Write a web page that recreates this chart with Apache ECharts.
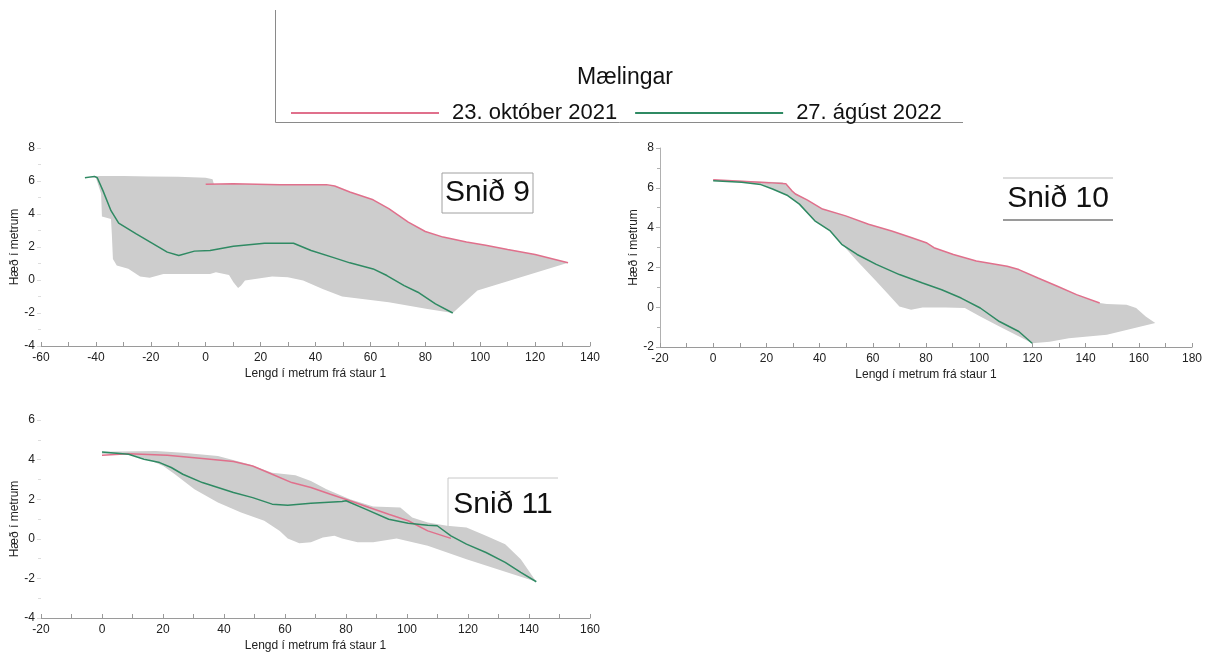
<!DOCTYPE html>
<html>
<head>
<meta charset="utf-8">
<title>Snið 9, 10 og 11</title>
<script src="https://cdn.jsdelivr.net/npm/echarts@6/dist/echarts.min.js"></script>
<style>
html, body { margin: 0; padding: 0; background: #fff; }
#chart { width: 1227px; height: 658px; }
</style>
</head>
<body>
<div id="chart"></div>
<script>
// Mælingar - [lengd frá staur 1 (m), hæð (m)]
const names = ['23. október 2021', '27. ágúst 2022'];

// Snið 9
const okt9 = [[0, 5.8], [10, 5.83], [27, 5.78], [44, 5.78], [47, 5.7], [52.5, 5.33], [61, 4.86], [66.7, 4.32], [73.8, 3.51], [80, 2.94], [86.5, 2.6], [95, 2.3], [102, 2.1], [110, 1.85], [120, 1.55], [132, 1.05]];
const agu9 = [[-44, 6.2], [-40.5, 6.28], [-39.5, 6.2], [-37.4, 5.4], [-34.5, 4.2], [-31.7, 3.45], [-25.3, 2.8], [-14, 1.69], [-9.8, 1.48], [-4.1, 1.75], [1.6, 1.79], [10.1, 2.05], [21.4, 2.23], [32, 2.23], [38.4, 1.79], [46.9, 1.34], [52.5, 1.04], [61, 0.67], [66, 0.27], [72.3, -0.34], [77.3, -0.74], [83.7, -1.45], [90, -2.0]];
const efri9 = [[-44, 6.2], [-38.8, 6.3], [-30, 6.3], [-20, 6.28], [-10, 6.26], [0, 6.2], [2.5, 6.1], [3, 5.8], [10, 5.83], [27, 5.78], [44, 5.78], [47, 5.7], [52.5, 5.33], [61, 4.86], [66.7, 4.32], [73.8, 3.51], [80, 2.94], [86.5, 2.6], [95, 2.3], [102, 2.1], [110, 1.85], [120, 1.55], [132, 1.05]];
const nedri9 = [[132, 1.05], [99, -0.64], [90, -2.0], [80.8, -1.75], [66.7, -1.35], [49.7, -1.0], [42.6, -0.54], [35.5, -0.03], [29.9, 0.17], [24.2, 0.21], [18.6, 0.07], [14.3, -0.03], [12.9, -0.34], [11.8, -0.48], [10.1, -0.13], [8.5, 0.3], [3.7, 0.47], [1.6, 0.37], [-6.9, 0.37], [-15.4, 0.37], [-20.4, 0.13], [-23.9, 0.21], [-28.2, 0.68], [-32.4, 0.88], [-33.8, 1.28], [-34.2, 2.8], [-34.5, 3.7], [-37.8, 3.85], [-38.1, 5.23], [-40, 6.2]];

// Snið 10
const okt10 = [[0, 6.4], [10.7, 6.33], [20.8, 6.26], [27.3, 6.2], [29.5, 5.86], [30.9, 5.69], [35.3, 5.39], [41.1, 4.93], [49.8, 4.59], [58.4, 4.17], [67.1, 3.83], [74.4, 3.5], [80.1, 3.24], [83, 2.99], [90.3, 2.65], [98.9, 2.32], [110.5, 2.06], [114.9, 1.89], [122.1, 1.47], [129.4, 1.05], [136.6, 0.63], [145.3, 0.21]];
const agu10 = [[0, 6.36], [10.7, 6.28], [17.9, 6.16], [22.3, 5.94], [28, 5.61], [32.4, 5.18], [38.2, 4.34], [44, 3.83], [48.3, 3.16], [54.1, 2.65], [61.3, 2.15], [70, 1.64], [78.7, 1.22], [85.9, 0.88], [93.2, 0.46], [100.4, -0.04], [107.6, -0.72], [114.9, -1.22], [119.9, -1.81]];
const efri10 = [[0, 6.4], [20, 6.3], [26, 6.28], [28, 6.1], [30, 5.8], [35.3, 5.39], [41.1, 4.93], [49.8, 4.59], [58.4, 4.17], [67.1, 3.83], [74.4, 3.5], [80.1, 3.24], [83, 2.99], [90.3, 2.65], [98.9, 2.32], [110.5, 2.06], [114.9, 1.89], [122.1, 1.47], [129.4, 1.05], [136.6, 0.63], [145.3, 0.21], [148, 0.16], [155.4, 0.12], [159, -0.04], [162.6, -0.47], [166.2, -0.8]];
const nedri10 = [[166.2, -0.8], [148, -1.39], [133.7, -1.56], [126.5, -1.73], [119.9, -1.81], [116.3, -1.56], [107.6, -0.97], [100.4, -0.47], [94.6, -0.04], [87.4, -0.01], [78.7, -0.01], [74.4, -0.13], [70, 0.04], [67.1, 0.46], [61.3, 1.31], [54.1, 2.32], [44, 3.83], [38.2, 4.34], [32.4, 5.18], [28, 5.61], [22.3, 5.94], [17.9, 6.16], [10.7, 6.28], [0, 6.36]];

// Snið 11
const okt11 = [[0, 4.22], [8.7, 4.3], [21.4, 4.22], [32.9, 4.05], [43.1, 3.9], [49.4, 3.68], [55.8, 3.26], [62.2, 2.84], [68.5, 2.59], [74.9, 2.25], [81.3, 1.92], [87.6, 1.58], [94, 1.24], [100.4, 0.91], [106.8, 0.4], [114.4, 0.02]];
const agu11 = [[0, 4.39], [8.7, 4.27], [13.8, 4.02], [18.9, 3.85], [22.7, 3.6], [26.5, 3.26], [32.9, 2.84], [38, 2.59], [43.1, 2.34], [49.4, 2.08], [55.8, 1.75], [60.9, 1.7], [68.5, 1.8], [78.7, 1.88], [80, 1.92], [86.4, 1.5], [94, 0.99], [100.4, 0.79], [106.8, 0.69], [109.9, 0.66], [114.4, 0.15], [119.5, -0.27], [125.9, -0.69], [132.2, -1.19], [137.3, -1.7], [142.4, -2.17]];
const efri11 = [[0, 4.4], [17.6, 4.44], [26.5, 4.35], [38, 4.18], [48.2, 3.76], [55.8, 3.34], [63.4, 3.21], [68.5, 2.92], [73.6, 2.5], [81.3, 2.0], [88.9, 1.63], [97.8, 1.58], [101.7, 1.08], [106.8, 0.82], [113.1, 0.66], [119.5, 0.57], [125.9, 0.15], [132.2, -0.27], [137.3, -1.03], [142.4, -2.17]];
const nedri11 = [[142.4, -2.17], [119.5, -1.03], [106.8, -0.35], [96.6, 0.02], [88.9, -0.18], [83.8, -0.18], [78.7, 0.02], [76.2, 0.15], [72.4, 0.07], [68.5, -0.18], [64.7, -0.22], [60.9, 0.02], [58.3, 0.4], [53.2, 0.91], [45.6, 1.33], [38, 1.83], [30.3, 2.5], [23.9, 3.26], [20.1, 3.68], [15, 4.02], [8.7, 4.27], [0, 4.3]];

const PINK = '#e0708c';
const GREEN = '#2f8a63';
const GRAY = '#cdcdcd';
const FONT = 'Liberation Sans, Arial, sans-serif';

const myChart = echarts.init(document.getElementById('chart'));

function xAxis(gridIndex, min, max) {
  return {
    type: 'value', gridIndex: gridIndex, min: min, max: max, interval: 20,
    name: 'Lengd í metrum frá staur 1', nameLocation: 'middle', nameGap: 22,
    nameTextStyle: { color: '#222', fontSize: 12, fontFamily: FONT },
    splitLine: { show: false },
    axisLine: { onZero: false, lineStyle: { color: '#9a9a9a', width: 1 } },
    axisTick: { inside: true, length: 4, lineStyle: { color: '#9a9a9a' } },
    minorTick: { show: true, splitNumber: 2, length: 4, lineStyle: { color: '#9a9a9a' } },
    axisLabel: { color: '#222', fontSize: 12, fontFamily: FONT, margin: 6 }
  };
}

function yAxis(gridIndex, min, max, showLine, gap) {
  return {
    type: 'value', gridIndex: gridIndex, min: min, max: max, interval: 2,
    name: 'Hæð í metrum', nameLocation: 'middle', nameGap: gap, nameRotate: 90,
    nameTextStyle: { color: '#222', fontSize: 12, fontFamily: FONT },
    splitLine: { show: false },
    axisLine: { show: showLine, onZero: false, lineStyle: { color: '#b0b0b0' } },
    axisTick: { show: true, length: 4, lineStyle: { color: showLine ? '#b0b0b0' : '#dddddd' } },
    minorTick: { show: true, splitNumber: 2, length: 3, lineStyle: { color: showLine ? '#b0b0b0' : '#dddddd' } },
    axisLabel: { color: '#222', fontSize: 12, fontFamily: FONT, margin: 6 }
  };
}

// grár flötur milli efri og neðri marka
function svaedi(idx, efri, nedri) {
  const punktar = efri.concat(nedri);
  return {
    type: 'custom', name: 'svaedi' + idx, xAxisIndex: idx, yAxisIndex: idx,
    silent: true, z: 1, data: punktar,
    renderItem: function (params, api) {
      if (params.dataIndex !== 0) return;
      return {
        type: 'polygon',
        shape: { points: punktar.map(p => api.coord(p)) },
        style: { fill: GRAY, stroke: null }
      };
    }
  };
}

function lina(idx, name, data, color) {
  return {
    type: 'line', name: name, xAxisIndex: idx, yAxisIndex: idx,
    data: data, symbol: 'none', z: 3,
    lineStyle: { color: color, width: 1.5 },
    itemStyle: { color: color }
  };
}

function snidBox(label, x, y, w, h, kind) {
  const children = [];
  if (kind === 'box') {
    children.push({ type: 'rect', shape: { x: x, y: y, width: w, height: h }, style: { fill: '#fff', stroke: '#a0a0a0', lineWidth: 1 } });
  } else if (kind === 'lines') {
    children.push({ type: 'line', shape: { x1: x, y1: y, x2: x + w, y2: y }, style: { stroke: '#dcdcdc', lineWidth: 2 } });
    children.push({ type: 'line', shape: { x1: x, y1: y + h, x2: x + w, y2: y + h }, style: { stroke: '#9a9a9a', lineWidth: 2 } });
  } else {
    children.push({ type: 'rect', shape: { x: x, y: y, width: w, height: h }, style: { fill: '#fff', stroke: null } });
    children.push({ type: 'polyline', shape: { points: [[x, y + h], [x, y], [x + w, y]] }, style: { stroke: '#c8c8c8', lineWidth: 1 } });
  }
  children.push({
    type: 'text', x: x + w / 2, y: y + h / 2,
    style: { text: label, font: '30px ' + FONT, fill: '#111', align: 'center', verticalAlign: 'middle' }
  });
  return { type: 'group', children: children, z: 10 };
}

const chartOption = {
  animation: false,
  backgroundColor: '#fff',
  title: {
    text: 'Mælingar', left: 620, top: 61, textAlign: 'center',
    textStyle: { color: '#111', fontSize: 23, fontWeight: 'normal', fontFamily: FONT }
  },
  legend: {
    data: names, left: 291, top: 102, padding: 0, itemWidth: 148, itemHeight: 2, itemGap: 18,
    icon: 'rect',
    textStyle: { color: '#111', fontSize: 22, fontFamily: FONT, padding: [0, 0, 0, 8] }
  },
  grid: [
    { left: 41, top: 148, width: 549, height: 198 },
    { left: 660, top: 148, width: 532, height: 199 },
    { left: 41, top: 420, width: 549, height: 198 }
  ],
  xAxis: [xAxis(0, -60, 140), xAxis(1, -20, 180), xAxis(2, -20, 160)],
  yAxis: [yAxis(0, -4, 8, false, 20), yAxis(1, -2, 8, true, 20), yAxis(2, -4, 6, false, 20)],
  series: [
    svaedi(0, efri9, nedri9),
    lina(0, names[0], okt9, PINK),
    lina(0, names[1], agu9, GREEN),
    svaedi(1, efri10, nedri10),
    lina(1, names[0], okt10, PINK),
    lina(1, names[1], agu10, GREEN),
    svaedi(2, efri11, nedri11),
    lina(2, names[0], okt11, PINK),
    lina(2, names[1], agu11, GREEN)
  ],
  graphic: [
    { type: 'polyline', shape: { points: [[275.5, 10], [275.5, 122.5], [963, 122.5]] }, style: { stroke: '#8a8a8a', lineWidth: 1, fill: null } },
    snidBox('Snið 9', 442, 173, 91, 40, 'box'),
    snidBox('Snið 10', 1003, 178, 110, 42, 'lines'),
    snidBox('Snið 11', 448, 478, 110, 54, 'open')
  ]
};

myChart.setOption(chartOption);
window.onresize = () => {
  myChart.resize();
};
</script>
</body>
</html>
